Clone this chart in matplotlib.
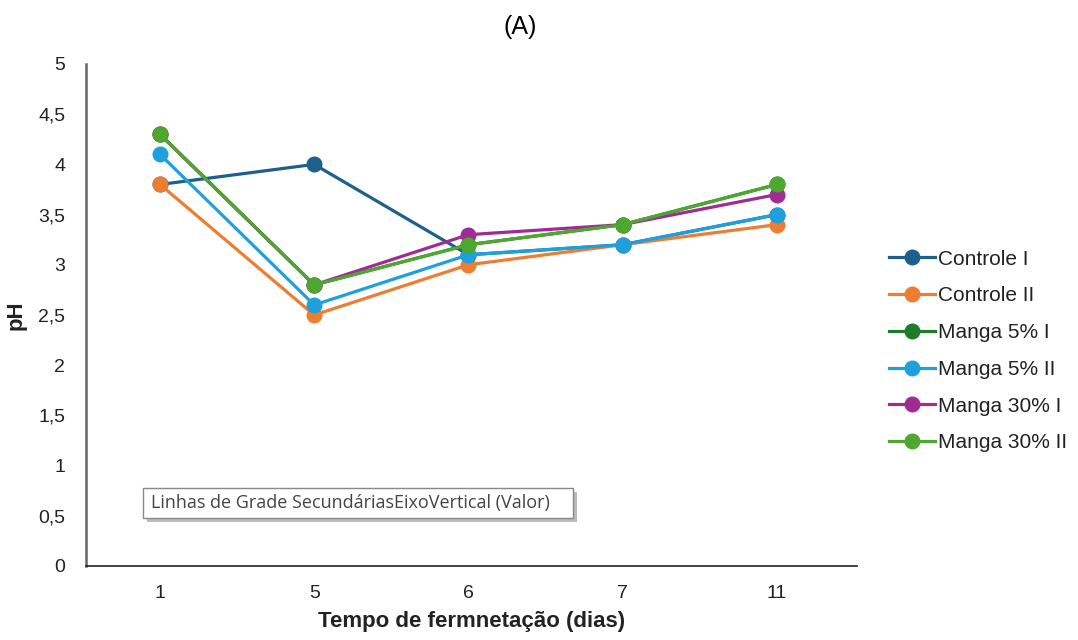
import matplotlib
matplotlib.use("Agg")
import matplotlib.pyplot as plt
from matplotlib.patches import Rectangle

plt.rcParams["font.family"] = ["Liberation Sans", "DejaVu Sans"]

days = ["1", "5", "6", "7", "11"]
series_names = ["Controle I", "Controle II", "Manga 5% I", "Manga 5% II", "Manga 30% I", "Manga 30% II"]
controle_1 = [3.8, 4.0, 3.1, 3.2, 3.5]
controle_2 = [3.8, 2.5, 3.0, 3.2, 3.4]
manga5_1 = [4.3, 2.8, 3.2, 3.4, 3.8]
manga5_2 = [4.1, 2.6, 3.1, 3.2, 3.5]
manga30_1 = [4.3, 2.8, 3.3, 3.4, 3.7]
manga30_2 = [4.3, 2.8, 3.2, 3.4, 3.8]
colors = ["#1f5f8b", "#ed7d31", "#1e7b2a", "#1ea0dc", "#a02b93", "#4ea72e"]
yticks = [0, 0.5, 1, 1.5, 2, 2.5, 3, 3.5, 4, 4.5, 5]
ytick_labels = ["0", "0,5", "1", "1,5", "2", "2,5", "3", "3,5", "4", "4,5", "5"]

fig = plt.figure(figsize=(10.78, 6.4), dpi=100)
ax = fig.add_axes([86/1078, 1-566/640, (857-86)/1078, (566-64)/640])

x = list(range(len(days)))
data = [controle_1, controle_2, manga5_1, manga5_2, manga30_1, manga30_2]
for name, vals, c in zip(series_names, data, colors):
    ax.plot(x, vals, color=c, lw=2.3, marker="o", ms=10.5, label=name)

ax.set_xlim(-0.48, 4.52)
ax.set_ylim(0, 5)
ax.set_xticks(x)
ax.set_xticklabels(days, fontsize=14, color="#222222")
ax.set_yticks(yticks)
ax.set_yticklabels(ytick_labels, fontsize=14, color="#222222")
ax.tick_params(axis="y", length=0, pad=15)
ax.tick_params(axis="x", length=0, pad=14)
ax.spines["top"].set_visible(False)
ax.spines["right"].set_visible(False)
ax.spines["left"].set_color("#666666")
ax.spines["left"].set_linewidth(1.8)
ax.spines["bottom"].set_color("#222222")
ax.spines["bottom"].set_linewidth(1.2)
ax.set_xlabel("Tempo de fermnetação (dias)", fontsize=16, fontweight="bold", labelpad=6, color="#222222")
ax.set_ylabel("pH", fontsize=16, fontweight="bold", labelpad=8, color="#222222")

fig.text(520/1078, 1-27/640, "(A)", ha="center", va="center", fontsize=18)

# tooltip-like box with shadow
bx0, by0, bw, bh = 143/1078, 1-518/640, 430/1078, 30/640
fig.patches.append(Rectangle((bx0 + 4/1078, by0 - 4/640), bw, bh, transform=fig.transFigure,
                             fc="#bbbbbb", ec="none", zorder=5))
fig.patches.append(Rectangle((bx0, by0), bw, bh, transform=fig.transFigure,
                             fc="white", ec="#888888", lw=1, zorder=6))
fig.text(bx0 + 8/1078, by0 + bh/2, "Linhas de Grade SecundáriasEixoVertical (Valor)",
         family=["Open Sans", "DejaVu Sans"], fontsize=13, color="#444444",
         va="center", ha="left", zorder=7)

leg = fig.legend(loc="center left", bbox_to_anchor=(870/1078, 1-351/640), frameon=False,
                 fontsize=15, handlelength=2.2, handletextpad=0.15, labelspacing=0.85)
for t in leg.get_texts():
    t.set_color("#222222")

fig.savefig("out.png", dpi=100)
